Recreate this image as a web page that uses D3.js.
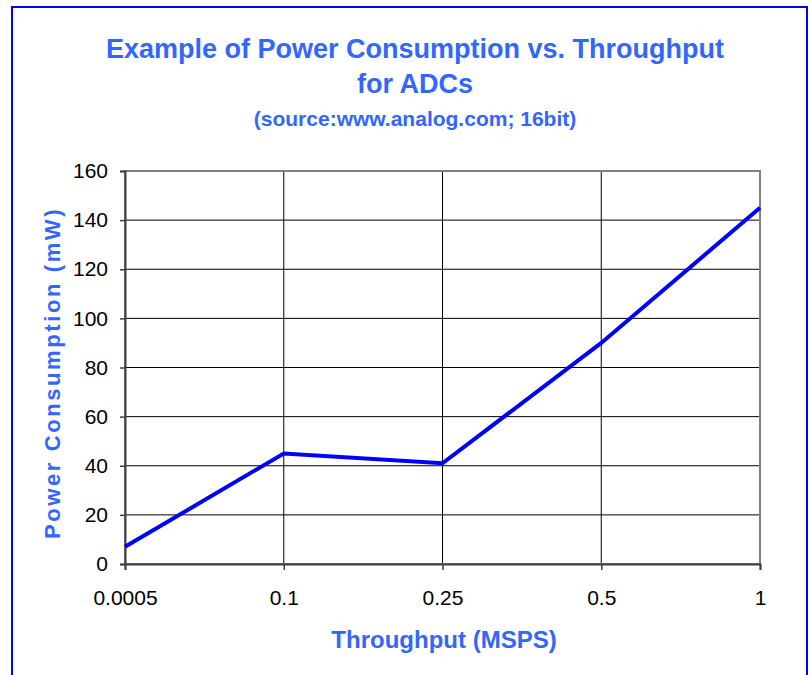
<!DOCTYPE html>
<html>
<head>
<meta charset="utf-8">
<script src="https://cdn.jsdelivr.net/npm/d3@7"></script>
<style>
  body { margin: 0; background: #fff; }
  text { font-family: "Liberation Sans", Arial, sans-serif; }
</style>
</head>
<body>
<svg id="chart" width="809" height="675"></svg>
<script>
const throughput = ["0.0005", "0.1", "0.25", "0.5", "1"];
const power = [7, 45, 41, 90, 145];
const yTicks = [0, 20, 40, 60, 80, 100, 120, 140, 160];

const svg = d3.select("#chart");
const margin = {left: 125, top: 171, right: 49, bottom: 111};
const w = 809 - margin.left - margin.right;
const h = 675 - margin.top - margin.bottom;
const titleColor = "#3366ff";

// outer frame
svg.append("rect")
    .attr("x", 12).attr("y", 7)
    .attr("width", 795).attr("height", 700)
    .attr("fill", "none")
    .attr("stroke", "#0000ff")
    .attr("stroke-width", 2);

const x = d3.scalePoint().domain(throughput).range([0, w]).padding(0);
const y = d3.scaleLinear().domain([0, 160]).range([h, 0]);

const g = svg.append("g").attr("transform", "translate(" + margin.left + "," + margin.top + ")");

// grid
g.selectAll(".hgrid").data(yTicks.slice(1, -1)).enter().append("line")
    .attr("x1", 0).attr("x2", w)
    .attr("y1", d => y(d)).attr("y2", d => y(d))
    .attr("stroke", "#000").attr("stroke-width", 1);
g.selectAll(".vgrid").data(throughput.slice(1, -1)).enter().append("line")
    .attr("x1", d => x(d)).attr("x2", d => x(d))
    .attr("y1", 0).attr("y2", h)
    .attr("stroke", "#000").attr("stroke-width", 1);

// plot border
g.append("rect")
    .attr("width", w).attr("height", h)
    .attr("fill", "none")
    .attr("stroke", "#808080").attr("stroke-width", 2);

// axes
const yAxis = g.append("g")
    .call(d3.axisLeft(y).tickValues(yTicks).tickSize(5).tickPadding(12));
const xAxis = g.append("g")
    .attr("transform", "translate(0," + h + ")")
    .call(d3.axisBottom(x).tickSize(6).tickPadding(20));
[yAxis, xAxis].forEach(a => {
    a.select(".domain").attr("stroke", "#404040").attr("stroke-width", 2);
    a.selectAll(".tick line").attr("stroke", "#404040").attr("stroke-width", 1.5);
    a.selectAll("text")
        .attr("font-family", "'Liberation Sans', Arial, sans-serif")
        .attr("font-size", 21).attr("fill", "#000");
});

// line
const line = d3.line()
    .x((d, i) => x(throughput[i]))
    .y(d => y(d));
g.append("path")
    .datum(power)
    .attr("d", line)
    .attr("fill", "none")
    .attr("stroke", "#0000ff")
    .attr("stroke-width", 4)
    .attr("stroke-linejoin", "miter");

// titles
svg.append("text")
    .attr("x", 415).attr("y", 58)
    .attr("text-anchor", "middle")
    .attr("font-size", 27).attr("font-weight", "bold")
    .attr("fill", titleColor)
    .text("Example of Power Consumption vs. Throughput");
svg.append("text")
    .attr("x", 415).attr("y", 93)
    .attr("text-anchor", "middle")
    .attr("font-size", 27).attr("font-weight", "bold")
    .attr("fill", titleColor)
    .text("for ADCs");
svg.append("text")
    .attr("x", 415).attr("y", 126)
    .attr("text-anchor", "middle")
    .attr("font-size", 21).attr("font-weight", "bold")
    .attr("fill", titleColor)
    .text("(source:www.analog.com; 16bit)");

svg.append("text")
    .attr("x", 444).attr("y", 648)
    .attr("text-anchor", "middle")
    .attr("font-size", 24).attr("font-weight", "bold")
    .attr("fill", titleColor)
    .text("Throughput (MSPS)");

svg.append("text")
    .attr("transform", "translate(60,373) rotate(-90)")
    .attr("text-anchor", "middle")
    .attr("font-size", 22).attr("font-weight", "bold")
    .attr("letter-spacing", 2.6)
    .attr("fill", titleColor)
    .text("Power Consumption (mW)");
</script>
</body>
</html>
